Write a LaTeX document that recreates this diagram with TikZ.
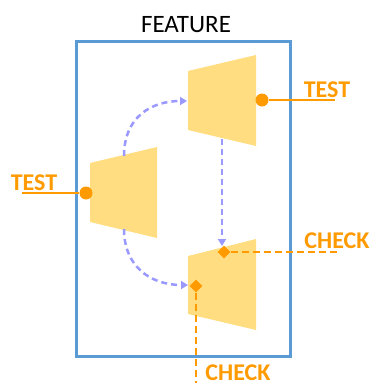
\documentclass[tikz,border=0pt]{standalone}
\usepackage{fontspec}
\setmainfont{Carlito}
\usetikzlibrary{arrows.meta,shapes.geometric}
\definecolor{boxblue}{HTML}{5B9BD5}
\definecolor{flowblue}{HTML}{9999FF}
\definecolor{accent}{HTML}{FF9A00}
\definecolor{stage}{HTML}{FFDD80}
\tikzset{
  stagefill/.style={fill=stage,draw=none},
  flow/.style={draw=flowblue,line width=2.5pt,dash pattern=on 6pt off 4pt,
    -{Triangle[length=7pt,width=8pt]}},
  solidlead/.style={draw=accent,line width=2.3pt},
  dashlead/.style={draw=accent,line width=2.3pt,dash pattern=on 7pt off 4pt},
  pin/.style={circle,fill=accent,inner sep=0pt,minimum size=13pt},
  tap/.style={diamond,fill=accent,inner sep=0pt,minimum size=13pt},
  tag/.style={text=accent,font=\bfseries\fontsize{24}{26}\selectfont,inner sep=0pt,anchor=base},
}
\begin{document}
\begin{tikzpicture}[x=1pt,y=-1pt]
\useasboundingbox (0,0) rectangle (374,383);

% feature frame and title
\draw[boxblue,line width=3pt] (76,41) rectangle (290,356);
\node[font=\fontsize{25}{28}\selectfont,inner sep=0pt,anchor=base] (title) at (186,32) {FEATURE};

% the three stages
\fill[stagefill] (188,71) -- (256,55) -- (256,146) -- (188,130) -- cycle;
\fill[stagefill] (90,163) -- (157,147) -- (157,238) -- (90,222) -- cycle;
\fill[stagefill] (188,256) -- (256,239) -- (256,330) -- (188,314) -- cycle;

% flow between stages
\coordinate (lefttop) at (124,156);
\coordinate (leftbot) at (124,229);
\coordinate (uppin) at (187,101);
\coordinate (upbot) at (222,139);
\coordinate (lowin) at (188,285);
\coordinate (lowtop) at (222,246);
\draw[flow] (lefttop) .. controls (124,118) and (150,101) .. (uppin);
\draw[flow] (leftbot) .. controls (124,266) and (150,285) .. (lowin);
\draw[flow] (upbot) -- (lowtop);

% test inputs
\node[pin] (pinup) at (262,100) {};
\coordinate (upend) at (335,100);
\draw[solidlead] (pinup) -- (upend);
\node[tag] (testup) at (327,97) {TEST};

\node[pin] (pinleft) at (86,193) {};
\coordinate (leftend) at (22,193);
\draw[solidlead] (leftend) -- (pinleft);
\node[tag] (testleft) at (34,190) {TEST};

% check outputs
\node[tap] (tapright) at (224,252) {};
\coordinate (rightend) at (338,252);
\draw[dashlead] (tapright) -- (rightend);
\node[tag] (checkright) at (337,248) {CHECK};

\node[tap] (tapbot) at (196,286) {};
\coordinate (botend) at (196,383);
\draw[dashlead] (tapbot) -- (botend);
\node[tag] (checkbot) at (238,380) {CHECK};
\end{tikzpicture}
\end{document}
